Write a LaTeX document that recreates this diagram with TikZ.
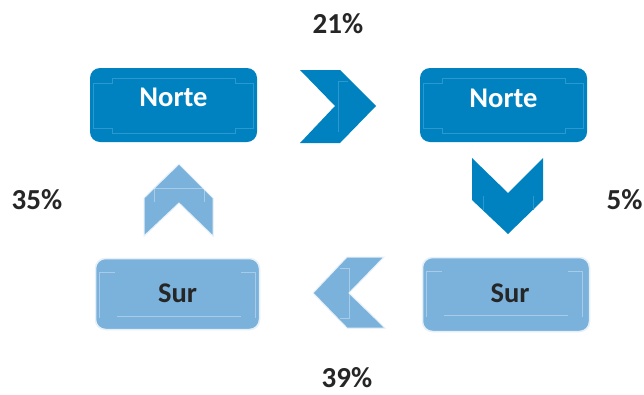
\documentclass[tikz,border=0pt]{standalone}
\usepackage{fontspec}
\setmainfont{Carlito}
\definecolor{dblue}{HTML}{0082C1}
\definecolor{lblue}{HTML}{7AB2DC}
\definecolor{dline}{HTML}{2B98CF}
\definecolor{ltxt}{HTML}{262626}
\definecolor{lborder}{HTML}{E6F0F8}
\begin{document}
\begin{tikzpicture}[x=1pt,y=-1pt,
  darkbox/.style={draw=none,fill=dblue,rounded corners=10pt,inner sep=0pt,text=white,font=\fontsize{28.5}{32}\selectfont\bfseries},
  lightbox/.style={draw=lborder,line width=1.5pt,fill=lblue,rounded corners=10pt,inner sep=0pt,text=ltxt,font=\fontsize{28.5}{32}\selectfont\bfseries},
  pct/.style={text=ltxt,font=\fontsize{29}{32}\selectfont\bfseries,inner sep=0pt},
  darkchev/.style={fill=dblue,draw=none},
  lightchev/.style={fill=lblue,draw=lborder,line width=1pt},
  dinner/.style={draw=dline,line width=0.6pt},
  linner/.style={draw=white,draw opacity=0.35,line width=0.6pt}]
\useasboundingbox (0,0) rectangle (644,394);
\fill[white] (0,0) rectangle (644,394);
% boxes
\node[darkbox,minimum width=167pt,minimum height=74pt] (n1) at (173.5,105) {};
\node[darkbox,minimum width=167pt,minimum height=74pt] (n2) at (503.5,105) {};
\node[lightbox,minimum width=164pt,minimum height=71pt] (s1) at (177.5,294) {};
\node[lightbox,minimum width=167pt,minimum height=74pt] (s2) at (506,294.5) {};
% inner frames of dark boxes
\foreach \bx in {n1,n2}{
  \draw[dinner,shift={(\bx.north west)}]
    (22,10)--(145,10)--(145,15)--(163,15)--(163,60)--(145,60)--(145,65)--(22,65)--(22,60)--(3,60)--(3,15)--(22,15)--cycle;
}
% inner lines of light boxes
\foreach \bx in {s1,s2}{
  \begin{scope}[shift={(\bx.north west)}]
  \draw[linner] (20,15)--(5,15)--(5,60);
  \draw[linner] (146,15)--(161,15)--(161,60);
  \draw[linner] (22,59)--(146,59);
  \end{scope}
}
% texts
\node[darkbox,fill=none,anchor=base] (t1) at ([yshift=-1pt]n1.center) {Norte};
\node[darkbox,fill=none,anchor=base] (t2) at ([yshift=-2pt]n2.center) {Norte};
\node[lightbox,fill=none,draw=none,anchor=base] (t3) at ([yshift=-8pt]s1.center) {Sur};
\node[lightbox,fill=none,draw=none,anchor=base] (t4) at ([xshift=4pt,yshift=-7.5pt]s2.center) {Sur};
% chevrons
\path[darkchev] (300,70)--(340,70)--(376,106)--(340,143)--(300,143)--(335,106)--cycle;
\draw[dinner] (338,132)--(338,81)--(348,81);
\path[darkchev] (472,158)--(508,193)--(543,158)--(543,200)--(508,234)--(472,200)--cycle;
\draw[dinner] (483,196)--(483,210);
\draw[dinner] (533,196)--(533,210);
\path[lightchev] (179,164)--(213,198)--(213,236)--(179,203)--(144,236)--(144,198)--cycle;
\draw[linner] (154,202)--(154,188)--(204,188)--(204,202);
\path[lightchev] (313,293)--(347,257)--(384,257)--(349,293)--(385,328)--(347,328)--cycle;
\draw[linner] (340,268)--(349,268)--(349,318)--(340,318);
% percentages
\node[pct,anchor=base] (p21) at (338,33) {21\%};
\node[pct,anchor=base] (p35) at (37,209.5) {35\%};
\node[pct,anchor=base] (p5) at (624.5,209.5) {5\%};
\node[pct,anchor=base] (p39) at (347,387) {39\%};
\end{tikzpicture}
\end{document}
